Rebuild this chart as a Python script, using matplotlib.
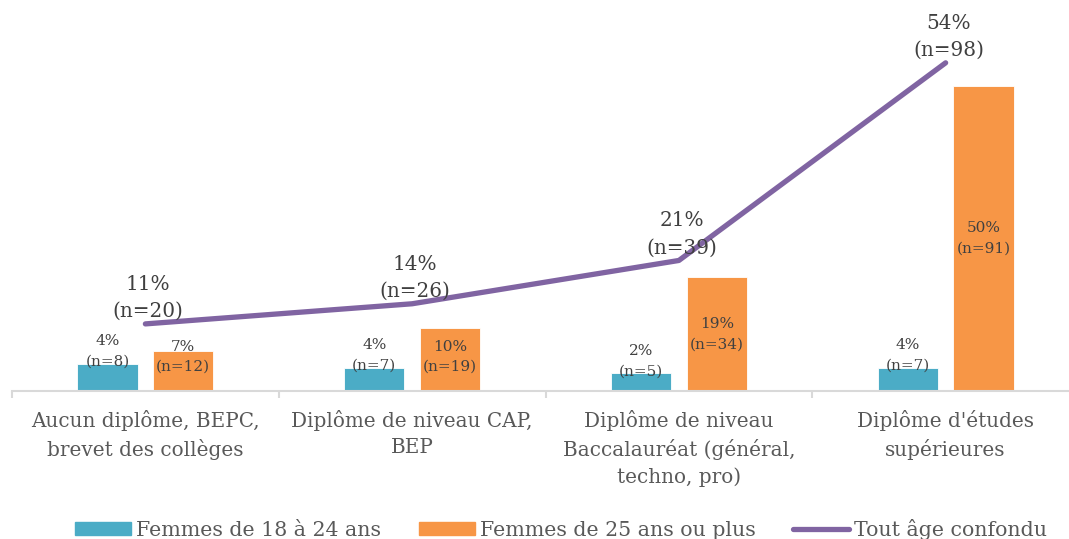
import numpy as np
import matplotlib.pyplot as plt
from matplotlib.patches import Patch
from matplotlib.lines import Line2D

plt.rcParams['font.family'] = ['DejaVu Serif']

categories = ["Aucun diplôme, BEPC,\nbrevet des collèges",
              "Diplôme de niveau CAP,\nBEP",
              "Diplôme de niveau\nBaccalauréat (général,\ntechno, pro)",
              "Diplôme d'études\nsupérieures"]

jeunes = [4.4, 3.8, 2.9, 3.8]
jeunes_txt = ["4%", "4%", "2%", "4%"]
jeunes_n = [8, 7, 5, 7]

plus25 = [6.6, 10.4, 18.7, 50.0]
plus25_txt = ["7%", "10%", "19%", "50%"]
plus25_n = [12, 19, 34, 91]

total = [11.0, 14.3, 21.4, 53.8]
total_txt = ["11%", "14%", "21%", "54%"]
total_n = [20, 26, 39, 98]

bleu = "#4BACC6"
orange = "#F79646"
violet = "#8064A2"
gris = "#D9D9D9"

fig = plt.figure(figsize=(10.69, 5.39), dpi=100)
ax = fig.add_axes([12 / 1069, 148 / 539, 1067 / 1069, 391 / 539])

x = np.arange(len(categories))
w = 0.225
dx = 0.142

ax.bar(x - dx, jeunes, w, color=bleu, edgecolor="white", linewidth=0.6)
ax.bar(x + dx, plus25, w, color=orange, edgecolor="white", linewidth=0.6)
ax.plot(x, total, color=violet, lw=3.8, solid_capstyle="round", solid_joinstyle="round")

# etiquettes barres
for i in range(len(x)):
    ax.text(x[i] - dx, jeunes[i] - 0.8, jeunes_txt[i] + "\n(n=" + str(jeunes_n[i]) + ")",
            ha="center", va="bottom", fontsize=11, color="#404040", linespacing=1.6)
    yc = max(plus25[i] / 2, 5.6)
    ax.text(x[i] + dx, yc, plus25_txt[i] + "\n(n=" + str(plus25_n[i]) + ")",
            ha="center", va="center", fontsize=11, color="#404040", linespacing=1.6)
    ax.annotate(total_txt[i] + "\n(n=" + str(total_n[i]) + ")", (x[i], total[i]),
                xytext=(2, 2), textcoords="offset points",
                ha="center", va="bottom", fontsize=14.4, color="#404040", linespacing=1.55)

ax.set_xlim(-0.5, 3.5)
ax.set_ylim(0, 64.1)

for s in ["top", "right", "left"]:
    ax.spines[s].set_visible(False)
ax.spines["bottom"].set_color(gris)
ax.spines["bottom"].set_linewidth(1.5)
ax.set_yticks([])

ax.set_xticks([-0.5, 0.5, 1.5, 2.5, 3.5])
ax.set_xticklabels([])
ax.tick_params(axis="x", which="major", length=5, width=1.5, color=gris)
ax.set_xticks(x, minor=True)
ax.set_xticklabels(categories, minor=True, fontsize=14.4, color="#595959", linespacing=1.47)
ax.tick_params(axis="x", which="minor", length=0, pad=14)

handles = [Patch(color=bleu), Patch(color=orange),
           Line2D([0], [0], color=violet, lw=3.8, solid_capstyle="round")]
fig.legend(handles, ["Femmes de 18 à 24 ans", "Femmes de 25 ans ou plus", "Tout âge confondu"],
           loc="center", bbox_to_anchor=(0.525, 0.018), ncol=3, frameon=False,
           fontsize=14.8, labelcolor="#595959", handlelength=2.7, handleheight=0.65,
           handletextpad=0.25, columnspacing=1.85)

fig.savefig("out.png", dpi=100)
